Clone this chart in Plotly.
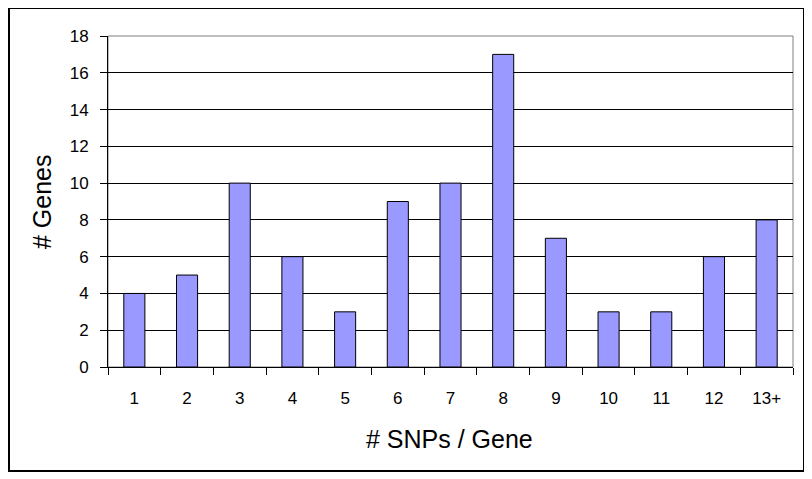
import plotly.graph_objects as go

categories = ["1", "2", "3", "4", "5", "6", "7", "8", "9", "10", "11", "12", "13+"]
genes = [4, 5, 10, 6, 3, 9, 10, 17, 7, 3, 3, 6, 8]
y_ticks = [0, 2, 4, 6, 8, 10, 12, 14, 16, 18]

# page body has an 8px margin, so the figure starts at (8, 8) in the window
OFF = 8
W, H = 812 - OFF, 479 - OFF
L, R, T, B = 108 - OFF, 812 - 793, 36 - OFF, 479 - 367
pw = W - L - R
ph = H - T - B

def px(x):
    return (x - OFF - L) / pw

def py(y):
    return (H - B - (y - OFF)) / ph

fig = go.Figure(go.Bar(
    x=categories, y=genes,
    marker=dict(color="#9999FF", line=dict(color="black", width=1)),
    width=0.4,
))

font = dict(family="Liberation Sans, Arial, sans-serif", color="black")

fig.update_layout(
    width=W, height=H,
    margin=dict(l=L, r=R, t=T, b=B),
    paper_bgcolor="white", plot_bgcolor="white",
    showlegend=False,
    font=font,
    xaxis=dict(
        type="category", tickson="boundaries", ticks="outside", ticklen=7,
        tickcolor="black", showline=True, linecolor="black", linewidth=1,
        showgrid=False, tickfont=dict(size=17, **font), ticklabelstandoff=16,
    ),
    yaxis=dict(
        range=[0, 18], tickvals=y_ticks, ticks="outside", ticklen=7,
        tickcolor="black", showline=True, linecolor="black", linewidth=1,
        showgrid=True, gridcolor="black", gridwidth=1, zeroline=False,
        tickfont=dict(size=17, **font), ticklabelstandoff=8,
    ),
    shapes=[
        dict(type="rect", xref="paper", yref="paper", x0=0, x1=1, y0=0, y1=1,
             line=dict(color="#808080", width=1), layer="below"),
        dict(type="rect", xref="paper", yref="paper",
             x0=px(9), x1=px(804), y0=py(471), y1=py(8),
             line=dict(color="black", width=2)),
    ],
    annotations=[
        dict(text="# Genes", xref="paper", yref="paper", x=px(42), y=py(202),
             xanchor="center", yanchor="middle",
             showarrow=False, textangle=-90, font=dict(size=25, **font)),
        dict(text="# SNPs / Gene", xref="paper", yref="paper", x=px(449), y=py(439),
             xanchor="center", yanchor="middle",
             showarrow=False, font=dict(size=25, **font)),
    ],
)

fig.write_html("out.html")
